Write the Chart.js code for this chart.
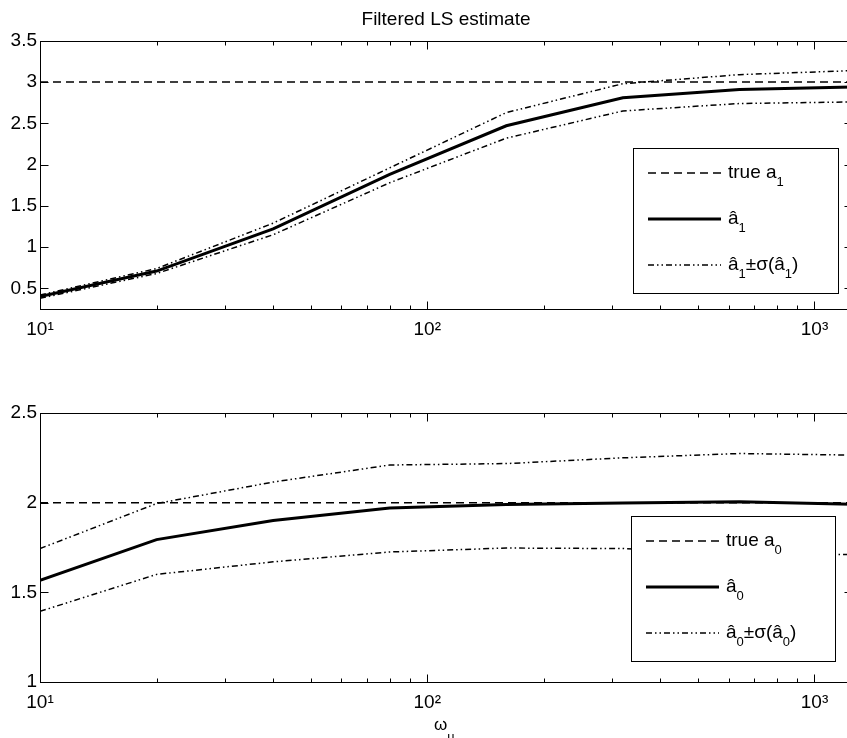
<!DOCTYPE html>
<html>
<head>
<meta charset="utf-8">
<title>Filtered LS estimate</title>
<script src="https://cdn.jsdelivr.net/npm/chart.js@4.4.1/dist/chart.umd.min.js"></script>
<style>
  html, body { margin: 0; padding: 0; background: #fff; overflow: hidden; }
  #wrap { position: relative; width: 847px; height: 738px; overflow: hidden; }
  .panel { position: absolute; left: 0; }
  #topPanel { top: 0; }
  #botPanel { top: 372px; }
</style>
</head>
<body>
<div id="wrap">
  <div class="panel" id="topPanel"><canvas id="topChart" width="860" height="370"></canvas></div>
  <div class="panel" id="botPanel"><canvas id="botChart" width="860" height="366"></canvas></div>
</div>
<script>
/* ===== DATA ===== */

// input bandwidth omega_u (log axis)
const omega = [10, 20, 40, 80, 160, 320, 640, 1280];

// upper panel: a1
const a1True  = [3, 3, 3, 3, 3, 3, 3, 3];
const a1Hat   = [0.40, 0.71, 1.22, 1.88, 2.47, 2.81, 2.91, 2.94];
const a1Upper = [0.42, 0.74, 1.29, 1.96, 2.63, 2.98, 3.09, 3.14];
const a1Lower = [0.38, 0.68, 1.15, 1.78, 2.32, 2.65, 2.74, 2.76];

// lower panel: a0
const a0True  = [2, 2, 2, 2, 2, 2, 2, 2];
const a0Hat   = [1.567, 1.794, 1.90, 1.97, 1.99, 1.998, 2.005, 1.99];
const a0Upper = [1.744, 1.995, 2.115, 2.21, 2.218, 2.25, 2.274, 2.265];
const a0Lower = [1.394, 1.60, 1.67, 1.725, 1.747, 1.744, 1.72, 1.71];

// ticks
const xTicks = [10, 100, 1000];
const xTickLabels = ['10\u00B9', '10\u00B2', '10\u00B3'];
const yTicksTop = [0.5, 1, 1.5, 2, 2.5, 3, 3.5];
const yTicksBot = [1, 1.5, 2, 2.5];

// legend labels: [text, isSubscript]
const legendTop = [
  [['true a', false], ['1', true]],
  [['\u00E2', false], ['1', true]],
  [['\u00E2', false], ['1', true], ['\u00B1\u03C3(\u00E2', false], ['1', true], [')', false]],
];
const legendBot = [
  [['true a', false], ['0', true]],
  [['\u00E2', false], ['0', true]],
  [['\u00E2', false], ['0', true], ['\u00B1\u03C3(\u00E2', false], ['0', true], [')', false]],
];

/* ===== HELPERS ===== */

const FONT_FAMILY = '"Liberation Sans", Arial, Helvetica, sans-serif';
Chart.defaults.font.family = FONT_FAMILY;
Chart.defaults.color = '#000';

const DASH = [8, 5];
const DASH_DOT = [6, 3, 1.5, 3, 1.5, 3];
const STYLES = [
  { width: 1.5, dash: DASH },
  { width: 3, dash: [] },
  { width: 1.5, dash: DASH_DOT },
];

function pts(ys) {
  return omega.map((x, i) => ({ x, y: ys[i] }));
}

function lineSet(label, ys, style) {
  return {
    label,
    data: pts(ys),
    borderColor: '#000',
    backgroundColor: '#000',
    borderWidth: style.width,
    borderDash: style.dash,
    pointRadius: 0,
    tension: 0,
    fill: false,
  };
}

// MATLAB style box with inward ticks (major + log minor)
const framePlugin = {
  id: 'frame',
  afterDatasetsDraw(chart) {
    const { ctx, chartArea: a, scales: { x, y } } = chart;
    const L = Math.round(a.left) + 0.5, R = Math.round(a.right) + 0.5;
    const T = Math.round(a.top) + 0.5, B = Math.round(a.bottom) + 0.5;
    ctx.save();
    ctx.strokeStyle = '#000';
    ctx.lineWidth = 1;
    ctx.setLineDash([]);
    ctx.strokeRect(L, T, R - L, B - T);
    ctx.beginPath();
    const tick = (px, len) => {
      const p = Math.round(px) + 0.5;
      ctx.moveTo(p, B); ctx.lineTo(p, B - len);
      ctx.moveTo(p, T); ctx.lineTo(p, T + len);
    };
    xTicks.forEach(d => {
      tick(x.getPixelForValue(d), 8);
      for (let m = 2; m <= 9; m++) {
        if (d * m <= x.max) tick(x.getPixelForValue(d * m), 4);
      }
    });
    y.ticks.forEach(t => {
      const p = Math.round(y.getPixelForValue(t.value)) + 0.5;
      ctx.moveTo(L, p); ctx.lineTo(L + 8, p);
      ctx.moveTo(R, p); ctx.lineTo(R - 8, p);
    });
    ctx.stroke();
    ctx.restore();
  }
};

function drawRich(ctx, parts, x, y) {
  parts.forEach(([text, sub]) => {
    ctx.font = (sub ? '13px ' : '19px ') + FONT_FAMILY;
    ctx.fillText(text, x, y + (sub ? 8 : 0));
    x += ctx.measureText(text).width;
  });
}

const legendPlugin = {
  id: 'mathLegend',
  afterDatasetsDraw(chart, args, opts) {
    if (!opts.box) return;
    const { ctx } = chart;
    const [bx, by, bw, bh] = opts.box;
    ctx.save();
    ctx.fillStyle = '#fff';
    ctx.fillRect(bx, by, bw, bh);
    ctx.strokeStyle = '#000';
    ctx.lineWidth = 1;
    ctx.setLineDash([]);
    ctx.strokeRect(bx + 0.5, by + 0.5, bw, bh);
    opts.labels.forEach((parts, i) => {
      const ly = by + 25 + i * 46;
      const st = STYLES[i];
      ctx.beginPath();
      ctx.lineWidth = st.width;
      ctx.setLineDash(st.dash);
      ctx.moveTo(bx + 15, ly);
      ctx.lineTo(bx + 88, ly);
      ctx.stroke();
      ctx.setLineDash([]);
      ctx.fillStyle = '#000';
      ctx.textBaseline = 'alphabetic';
      ctx.textAlign = 'left';
      drawRich(ctx, parts, bx + 95, ly + 5);
    });
    ctx.restore();
  }
};

// x label omega_u under lower panel
const xLabelPlugin = {
  id: 'xLabel',
  afterDraw(chart, args, opts) {
    if (!opts.show) return;
    const { ctx, chartArea: a } = chart;
    ctx.save();
    ctx.fillStyle = '#000';
    ctx.textBaseline = 'alphabetic';
    ctx.textAlign = 'left';
    ctx.font = '17px ' + FONT_FAMILY;
    const x0 = (a.left + a.right) / 2 - 12;
    ctx.fillText('\u03C9', x0, a.bottom + 48);
    const w = ctx.measureText('\u03C9').width;
    ctx.font = '13px ' + FONT_FAMILY;
    ctx.fillText('u', x0 + w, a.bottom + 59);
    ctx.restore();
  }
};

function makeChart(id, sets, yMin, yMax, yTicks, extra) {
  return new Chart(document.getElementById(id), {
    type: 'line',
    data: { datasets: sets },
    options: {
      responsive: false,
      animation: false,
      layout: { padding: { top: extra.padTop, right: 8, left: 0, bottom: 0 } },
      plugins: {
        legend: { display: false },
        tooltip: { enabled: false },
        title: extra.title ? {
          display: true,
          text: extra.title,
          fullSize: false,
          color: '#000',
          font: { size: 19, weight: 'normal', family: FONT_FAMILY },
          padding: { top: 8, bottom: 10 },
        } : { display: false },
        mathLegend: { box: extra.legendBox, labels: extra.legend },
        xLabel: { show: !!extra.xLabel },
      },
      scales: {
        x: {
          type: 'logarithmic',
          min: 10,
          max: 1250,
          grid: { display: false, drawTicks: false },
          border: { display: false },
          afterBuildTicks(s) { s.ticks = xTicks.map(v => ({ value: v })); },
          afterFit(s) { s.height = extra.xHeight; },
          ticks: {
            autoSkip: false,
            maxRotation: 0,
            padding: 9,
            color: '#000',
            font: { size: 19 },
            callback(v, i) { return xTickLabels[i]; },
          },
        },
        y: {
          type: 'linear',
          min: yMin,
          max: yMax,
          grid: { display: false, drawTicks: false },
          border: { display: false },
          afterBuildTicks(s) { s.ticks = yTicks.map(v => ({ value: v })); },
          afterFit(s) { s.width = 40; },
          ticks: {
            padding: 3,
            color: '#000',
            font: { size: 19 },
            callback(v) { return String(v); },
          },
        },
      },
    },
    plugins: [framePlugin, legendPlugin, xLabelPlugin],
  });
}

/* ===== UPPER PANEL (a1) ===== */

makeChart('topChart', [
  lineSet('true a1', a1True, STYLES[0]),
  lineSet('a1 hat', a1Hat, STYLES[1]),
  lineSet('a1 hat + sigma', a1Upper, STYLES[2]),
  lineSet('a1 hat - sigma', a1Lower, STYLES[2]),
], 0.25, 3.5, yTicksTop, {
  padTop: 0,
  title: 'Filtered LS estimate',
  xHeight: 61,
  legendBox: [633, 148, 205, 145],
  legend: legendTop,
});

/* ===== LOWER PANEL (a0) ===== */

makeChart('botChart', [
  lineSet('true a0', a0True, STYLES[0]),
  lineSet('a0 hat', a0Hat, STYLES[1]),
  lineSet('a0 hat + sigma', a0Upper, STYLES[2]),
  lineSet('a0 hat - sigma', a0Lower, STYLES[2]),
], 1, 2.5, yTicksBot, {
  padTop: 41,
  xHeight: 56,
  legendBox: [631, 144, 204, 145],
  legend: legendBot,
  xLabel: true,
});
</script>
</body>
</html>
